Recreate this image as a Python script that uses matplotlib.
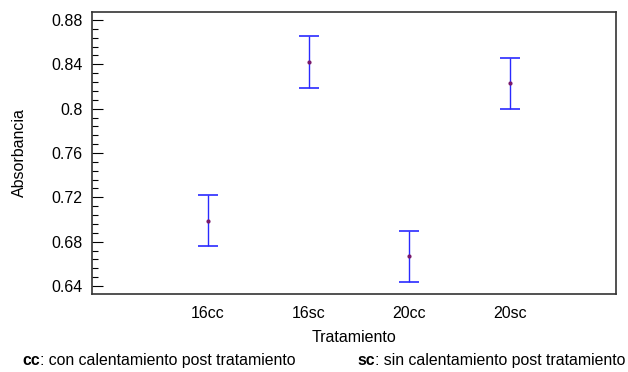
import matplotlib
matplotlib.use("Agg")
import matplotlib.pyplot as plt
from matplotlib.ticker import MultipleLocator, FixedLocator

plt.rcParams['font.family'] = ['Liberation Sans', 'DejaVu Sans']

categories = ["16cc", "16sc", "20cc", "20sc"]
means = [0.6986, 0.8418, 0.6668, 0.8228]
lower = [0.6760, 0.8186, 0.6438, 0.7994]
upper = [0.7218, 0.8653, 0.6900, 0.8460]
yticks = [0.64, 0.68, 0.72, 0.76, 0.8, 0.84, 0.88]
ytick_labels = ["0.64", "0.68", "0.72", "0.76", "0.8", "0.84", "0.88"]

FS = 11.5
FN = 11.4

fig = plt.figure(figsize=(6.28, 3.72), dpi=100)
ax = fig.add_axes([92/628, 1 - 294/372, (616-92)/628, (294-12)/372])

x = list(range(len(categories)))
yerr = [[m - l for m, l in zip(means, lower)], [u - m for u, m in zip(upper, means)]]
ax.errorbar(x, means, yerr=yerr, fmt='none', ecolor='#2a2aff', elinewidth=1.0,
            capsize=7.2, capthick=1.2)
ax.plot(x, means, 'o', color='#7a1a6a', markersize=3, markeredgewidth=0)

ax.set_xlim(-1.15, 4.05)
ax.set_ylim(0.6328, 0.8872)
ax.set_xticks(x)
ax.set_xticklabels(categories, fontsize=FS)
ax.tick_params(axis='x', length=0, pad=9)
ax.yaxis.set_major_locator(FixedLocator(yticks))
ax.set_yticklabels(ytick_labels, fontsize=FS)
ax.yaxis.set_minor_locator(MultipleLocator(0.008))
ax.tick_params(axis='y', which='major', direction='in', length=8, width=0.8, pad=7)
ax.tick_params(axis='y', which='minor', direction='in', length=4, width=0.8)
for s in ax.spines.values():
    s.set_linewidth(1.2)
    s.set_color('#333333')

ax.set_ylabel("Absorbancia", fontsize=FS, labelpad=17)
ax.set_xlabel("Tratamiento", fontsize=FS, labelpad=6)

ty = 1 - 368/372
t1 = fig.text(22/628, ty, "cc", fontsize=FN, fontweight='bold', va='bottom', ha='left')
ax.annotate(": con calentamiento post tratamiento", xy=(1, 0), xycoords=t1,
            fontsize=FN, va='bottom', ha='left', annotation_clip=False)
t2 = fig.text(625/628, ty, ": sin calentamiento post tratamiento", fontsize=FN,
              va='bottom', ha='right')
ax.annotate("sc", xy=(0, 0), xycoords=t2, fontsize=FN, fontweight='bold',
            va='bottom', ha='right', annotation_clip=False)

fig.savefig("out.png", dpi=100)
